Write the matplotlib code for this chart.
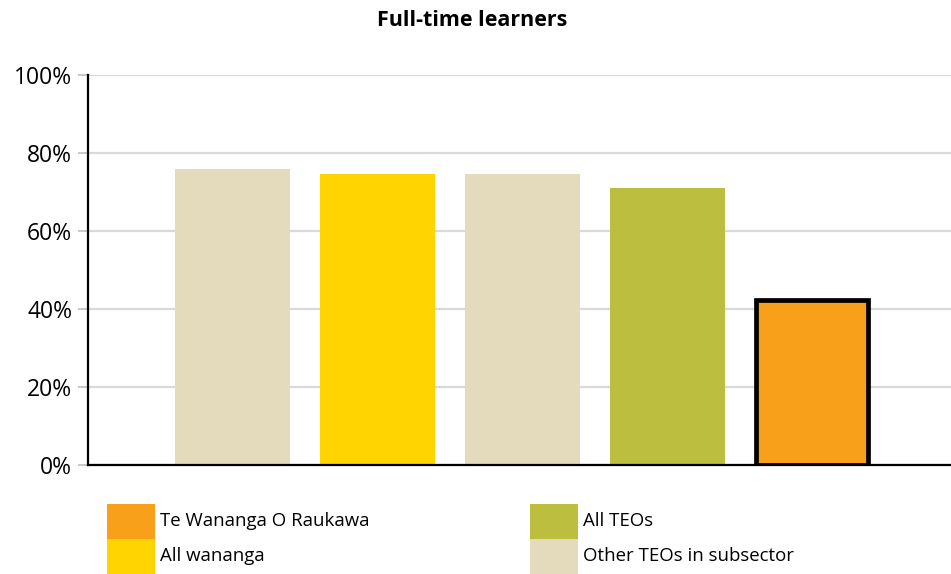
import matplotlib.pyplot as plt
from matplotlib.patches import Rectangle
from matplotlib.ticker import PercentFormatter

plt.rcParams['font.family'] = ['Open Sans', 'DejaVu Sans']

# Bars, left to right
bar_groups = ['Other TEOs in subsector', 'All wananga', 'Other TEOs in subsector',
              'All TEOs', 'Te Wananga O Raukawa']
bar_values = [75.8, 74.6, 74.6, 71.0, 42.2]

# Legend entries and colours
legend_labels = ['Te Wananga O Raukawa', 'All wananga', 'All TEOs', 'Other TEOs in subsector']
colors = {
    'Te Wananga O Raukawa': '#F9A01B',
    'All wananga': '#FFD400',
    'All TEOs': '#BBBE3F',
    'Other TEOs in subsector': '#E3DBBB',
}
highlight = 'Te Wananga O Raukawa'

fig = plt.figure(figsize=(9.51, 5.74), dpi=100)
ax = fig.add_axes([88 / 951, 1 - 465 / 574, 1 - 88 / 951, 390 / 574])

x = list(range(len(bar_values)))
for xi, g, v in zip(x, bar_groups, bar_values):
    if g == highlight:
        ax.bar(xi, v, width=0.77, color=colors[g], edgecolor='black', linewidth=3.4, zorder=3)
    else:
        ax.bar(xi, v, width=0.795, color=colors[g], linewidth=0, zorder=3)

ax.set_xlim(-1, 4.96)
ax.set_ylim(0, 100)
ax.set_yticks(range(0, 101, 20))
ax.yaxis.set_major_formatter(PercentFormatter(decimals=0))
ax.set_xticks([])
ax.grid(axis='y', color='#d9d9d9', linewidth=1.6, zorder=0)
ax.tick_params(axis='y', length=7, width=1.2, color='#bfbfbf', pad=4.5, labelsize=16.5)
for s in ['top', 'right']:
    ax.spines[s].set_visible(False)
for s in ['left', 'bottom']:
    ax.spines[s].set_linewidth(1.6)
    ax.spines[s].set_color('black')
    ax.spines[s].set_zorder(4)

fig.text(472 / 951, 1 - 20 / 574, 'Full-time learners', ha='center', va='center',
         fontsize=15.5, fontweight='bold')

# Legend drawn in figure pixels, two columns
col_x = [107, 530]
row_y = [504, 539]
for i, lab in enumerate(legend_labels):
    cx = col_x[i // 2]
    ry = row_y[i % 2]
    fig.patches.append(Rectangle((cx / 951, 1 - (ry + 35) / 574), 48 / 951, 35 / 574,
                                 transform=fig.transFigure, color=colors[lab], linewidth=0))
    fig.text((cx + 53) / 951, 1 - (ry + 17) / 574, lab, ha='left', va='center', fontsize=13.4)

fig.savefig('out.png', dpi=100)
